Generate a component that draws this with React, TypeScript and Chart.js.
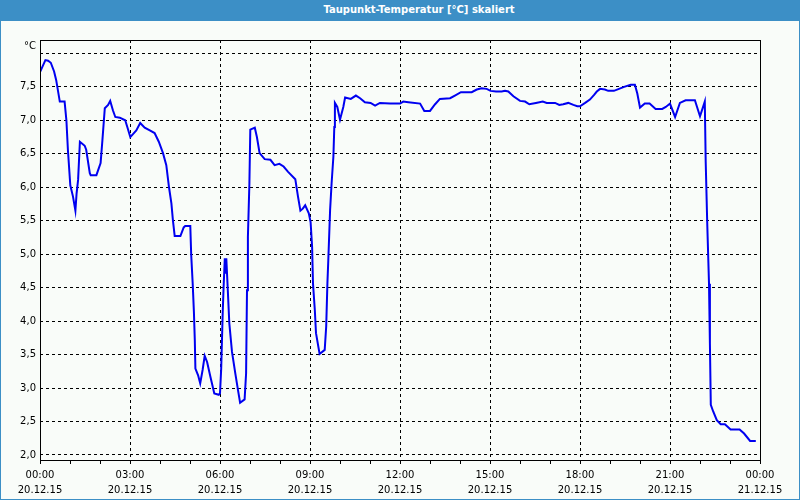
import React, { useEffect, useRef } from 'react';
import { Chart, registerables } from 'chart.js';

Chart.register(...registerables);

const TITLE = 'Taupunkt-Temperatur [°C] skaliert';
const UNIT = '°C';

// time in hours since 20.12.15 00:00
const hours = [
  0.0, 0.18, 0.27, 0.36, 0.47, 0.54, 0.66, 0.82, 0.88, 0.93,
  1.01, 1.1, 1.18, 1.22, 1.27, 1.33, 1.49, 1.54, 1.66, 1.69,
  1.88, 2.02, 2.08, 2.16, 2.27, 2.34, 2.43, 2.51, 2.66, 2.84,
  2.91, 3.01, 3.21, 3.34, 3.49, 3.66, 3.82, 3.96, 4.1, 4.21,
  4.3, 4.38, 4.43, 4.49, 4.68, 4.79, 4.84, 5.01, 5.04, 5.09,
  5.13, 5.16, 5.18, 5.27, 5.34, 5.42, 5.49, 5.57, 5.68, 5.81,
  5.96, 6.0, 6.04, 6.09, 6.12, 6.16, 6.19, 6.21, 6.26, 6.31,
  6.4, 6.51, 6.6, 6.67, 6.82, 6.87, 6.9, 6.93, 6.98, 7.01,
  7.16, 7.23, 7.32, 7.49, 7.68, 7.82, 7.98, 8.12, 8.27, 8.51,
  8.6, 8.68, 8.76, 8.84, 8.96, 9.02, 9.07, 9.1, 9.16, 9.2,
  9.32, 9.49, 9.54, 9.58, 9.61, 9.67, 9.72, 9.78, 9.81, 9.83,
  9.91, 10.0, 10.11, 10.17, 10.36, 10.53, 10.67, 10.83, 11.02, 11.17,
  11.33, 11.67, 12.0, 12.11, 12.28, 12.67, 12.81, 13.0, 13.17, 13.33,
  13.67, 13.83, 14.03, 14.39, 14.56, 14.72, 14.89, 15.02, 15.2, 15.39,
  15.5, 15.61, 15.78, 16.0, 16.17, 16.31, 16.53, 16.76, 16.89, 17.17,
  17.31, 17.44, 17.61, 17.78, 17.91, 18.0, 18.17, 18.33, 18.47, 18.56,
  18.67, 18.83, 18.94, 19.13, 19.3, 19.47, 19.69, 19.83, 19.91, 20.0,
  20.16, 20.32, 20.52, 20.74, 20.86, 21.0, 21.17, 21.33, 21.52, 21.83,
  22.0, 22.16, 22.19, 22.24, 22.3, 22.33, 22.36, 22.44, 22.56, 22.69,
  22.83, 23.02, 23.32, 23.47, 23.67, 23.86,
];

const dewPoint = [
  7.72, 7.9, 7.89, 7.86, 7.73, 7.6, 7.28, 7.28, 7.0, 6.56,
  6.03, 5.86, 5.65, 5.91, 6.11, 6.68, 6.62, 6.56, 6.21, 6.18,
  6.18, 6.36, 6.7, 7.18, 7.23, 7.29, 7.15, 7.05, 7.04, 7.0,
  6.9, 6.75, 6.85, 6.96, 6.89, 6.85, 6.81, 6.68, 6.51, 6.33,
  6.0, 5.76, 5.51, 5.27, 5.27, 5.4, 5.42, 5.42, 4.99, 4.56,
  4.14, 3.72, 3.29, 3.19, 3.07, 3.27, 3.48, 3.39, 3.17, 2.92,
  2.9, 2.92, 3.29, 4.12, 4.51, 4.94, 4.71, 4.94, 4.46, 3.97,
  3.54, 3.22, 2.97, 2.78, 2.83, 3.22, 4.46, 5.26, 6.06, 6.86,
  6.89, 6.75, 6.51, 6.42, 6.41, 6.33, 6.35, 6.31, 6.23, 6.12,
  5.86, 5.65, 5.68, 5.73, 5.61, 5.48, 5.11, 4.56, 4.17, 3.82,
  3.51, 3.57, 3.92, 4.56, 4.91, 5.66, 6.06, 6.46, 6.9, 7.26,
  7.2, 7.01, 7.2, 7.34, 7.32, 7.37, 7.33, 7.27, 7.26, 7.22,
  7.26, 7.25, 7.25, 7.28, 7.27, 7.25, 7.14, 7.14, 7.24, 7.32,
  7.33, 7.37, 7.42, 7.42, 7.46, 7.48, 7.47, 7.44, 7.43, 7.43,
  7.44, 7.43, 7.36, 7.29, 7.28, 7.24, 7.26, 7.28, 7.26, 7.26,
  7.23, 7.24, 7.26, 7.23, 7.21, 7.21, 7.26, 7.31, 7.38, 7.43,
  7.47, 7.46, 7.44, 7.44, 7.47, 7.5, 7.53, 7.53, 7.4, 7.19,
  7.25, 7.25, 7.17, 7.17, 7.2, 7.25, 7.05, 7.26, 7.3, 7.3,
  7.06, 7.28, 6.38, 5.48, 4.56, 3.67, 2.75, 2.65, 2.52, 2.46,
  2.46, 2.38, 2.38, 2.32, 2.21, 2.21,
];

const Y_MIN = 1.925;
const Y_MAX = 8.2;
const yTicks = [2.0, 2.5, 3.0, 3.5, 4.0, 4.5, 5.0, 5.5, 6.0, 6.5, 7.0, 7.5, 8.0];
const xTickHours = [0, 1, 2, 3, 4, 5, 6, 7, 8, 9, 10, 11, 12, 13, 14, 15, 16, 17, 18, 19, 20, 21, 22, 23, 24];
const xLabelHours = [0, 3, 6, 9, 12, 15, 18, 21, 24];
const xTimeLabels = ['00:00', '03:00', '06:00', '09:00', '12:00', '15:00', '18:00', '21:00', '00:00'];
const xDateLabels = ['20.12.15', '20.12.15', '20.12.15', '20.12.15', '20.12.15', '20.12.15', '20.12.15', '20.12.15', '21.12.15'];

const FONT = '"DejaVu Sans", Verdana, sans-serif';

export default function App() {
  const ref = useRef<HTMLCanvasElement>(null);

  useEffect(() => {
    const canvas = ref.current;
    if (!canvas) return;

    const framePlugin = {
      id: 'frame',
      afterDraw(chart: any) {
        const { ctx, chartArea: a } = chart;
        ctx.save();
        ctx.setLineDash([]);
        ctx.strokeStyle = '#000';
        ctx.lineWidth = 1;
        ctx.strokeRect(a.left + 0.5, a.top + 0.5, a.right - a.left, a.bottom - a.top);
        ctx.fillStyle = '#000';
        ctx.font = `10px ${FONT}`;
        ctx.textAlign = 'right';
        ctx.textBaseline = 'middle';
        ctx.fillText(UNIT, a.left - 4, a.top + 6);
        ctx.restore();
      },
    };

    const chart = new Chart(canvas, {
      type: 'line',
      data: {
        datasets: [
          {
            data: hours.map((h, i) => ({ x: h, y: dewPoint[i] })),
            borderColor: '#0000f0',
            borderWidth: 2,
            pointRadius: 0,
            tension: 0,
            fill: false,
          },
        ],
      },
      options: {
        responsive: false,
        animation: false,
        devicePixelRatio: 1,
        layout: { padding: { left: 0, right: 40, top: 40, bottom: 0 } },
        plugins: {
          legend: { display: false },
          tooltip: { enabled: false },
          title: { display: false },
        },
        scales: {
          x: {
            type: 'linear',
            min: 0,
            max: 24,
            afterBuildTicks: (s: any) => {
              s.ticks = xTickHours.map((v) => ({ value: v }));
            },
            afterFit: (s: any) => {
              s.height = 40;
            },
            border: { display: false, dash: [3, 3] },
            grid: {
              color: (c: any) => {
                const v = c.tick ? c.tick.value : -1;
                return v % 3 === 0 && v > 0 && v < 24 ? '#000' : 'rgba(0,0,0,0)';
              },
              lineWidth: 1,
              drawTicks: true,
              tickLength: 4,
              tickColor: '#000',
              tickBorderDash: [],
            },
            ticks: {
              autoSkip: false,
              maxRotation: 0,
              minRotation: 0,
              padding: 4,
              color: '#000',
              font: { family: FONT, size: 10, lineHeight: 1.5 },
              callback: (v: any) => {
                const idx = xLabelHours.indexOf(Number(v));
                return idx >= 0 ? [xTimeLabels[idx], xDateLabels[idx]] : '';
              },
            },
          },
          y: {
            type: 'linear',
            min: Y_MIN,
            max: Y_MAX,
            afterBuildTicks: (s: any) => {
              s.ticks = yTicks.map((v) => ({ value: v }));
            },
            afterFit: (s: any) => {
              s.width = 40;
            },
            border: { display: false, dash: [3, 3] },
            grid: {
              color: '#000',
              lineWidth: 1,
              drawTicks: false,
            },
            ticks: {
              padding: 4,
              color: '#000',
              font: { family: FONT, size: 10 },
              callback: (v: any) => {
                const n = Number(v);
                if (Math.abs(n - 8) < 1e-6) return '';
                return n.toFixed(1).replace('.', ',');
              },
            },
          },
        },
      },
      plugins: [framePlugin],
    } as any);

    return () => chart.destroy();
  }, []);

  return (
    <div
      style={{
        position: 'fixed',
        left: 0,
        top: 0,
        width: 800,
        height: 500,
        background: '#f9fcf9',
        overflow: 'hidden',
      }}
    >
      <div
        style={{
          position: 'absolute',
          left: 0,
          top: 0,
          width: 800,
          height: 21,
          background: '#3c8fc6',
          color: '#fff',
          fontFamily: FONT,
          fontWeight: 'bold',
          fontSize: 10,
          lineHeight: '20px',
          textAlign: 'center',
          paddingLeft: 38,
          boxSizing: 'border-box',
        }}
      >
        {TITLE}
      </div>
      <canvas
        ref={ref}
        width={800}
        height={500}
        style={{ position: 'absolute', left: 0, top: 0, width: 800, height: 500 }}
      />
      <div
        style={{
          position: 'absolute',
          left: 0,
          top: 0,
          width: 800,
          height: 500,
          border: '1px solid #3c8fc6',
          boxSizing: 'border-box',
          pointerEvents: 'none',
        }}
      />
    </div>
  );
}
